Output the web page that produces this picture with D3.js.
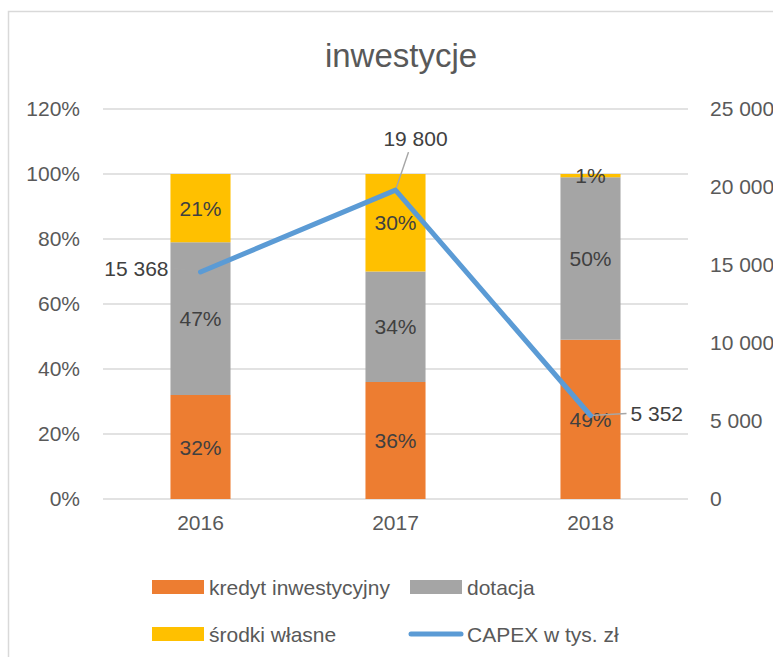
<!DOCTYPE html>
<html>
<head>
<meta charset="utf-8">
<script src="https://cdn.jsdelivr.net/npm/d3@7"></script>
<style>
  body { margin: 0; background: #fff; }
  svg { display: block; font-family: "Liberation Sans", Arial, sans-serif; }
</style>
</head>
<body>
<div id="chart"></div>
<script>
// data
var years = ["2016", "2017", "2018"]
var seriesNames = ["kredyt inwestycyjny", "dotacja", "środki własne"]
var kredyt = [32, 36, 49]
var dotacja = [47, 34, 50]
var srodki = [21, 30, 1]
var capexName = "CAPEX w tys. zł"
var capex = [14550, 19800, 5352]
var capexLabels = ["15 368", "19 800", "5 352"]
var leftTicks = [0, 20, 40, 60, 80, 100, 120]
var rightTicks = [0, 5000, 10000, 15000, 20000, 25000]

var colors = ["#ED7D31", "#A5A5A5", "#FFC000"]
var lineColor = "#5B9BD5"
var textColor = "#595959"
var labelColor = "#404040"

var W = 773, H = 657
var plot = {left: 103, right: 688, top: 109, bottom: 499}

var svg = d3.select("#chart").append("svg")
    .attr("width", W).attr("height", H)

// chart frame (runs off the right and bottom edge)
svg.append("rect")
    .attr("x", 8.5).attr("y", 11.5)
    .attr("width", 800).attr("height", 700)
    .style("fill", "#fff").style("stroke", "#D9D9D9").style("stroke-width", 1.5)

svg.append("text")
    .attr("x", 401).attr("y", 67)
    .attr("text-anchor", "middle")
    .style("font-size", "33px").style("fill", textColor)
    .text("inwestycje")

var x = d3.scaleBand()
    .domain(years)
    .range([plot.left, plot.right])
    .paddingInner(0.692)
    .paddingOuter(0.346)

var y = d3.scaleLinear().domain([0, 120]).range([plot.bottom, plot.top])
var y2 = d3.scaleLinear().domain([0, 25000]).range([plot.bottom, plot.top])

var fmtPl = d3.formatLocale({decimal: ",", thousands: " ", grouping: [3], currency: ["", " zł"]})

// gridlines
svg.append("g").selectAll("line")
    .data(leftTicks).enter().append("line")
    .attr("x1", plot.left).attr("x2", plot.right)
    .attr("y1", function(d){ return y(d) }).attr("y2", function(d){ return y(d) })
    .style("stroke", "#D9D9D9").style("stroke-width", 1.5)

// left axis
var gl = svg.append("g")
    .attr("transform", "translate(" + (plot.left - 23) + ",0)")
    .call(d3.axisLeft(y).tickValues(leftTicks).tickSize(0).tickPadding(0)
        .tickFormat(function(d){ return d + "%" }))
gl.select(".domain").remove()
gl.selectAll("text").style("font-size", "21px").style("fill", textColor)
    .style("font-family", "Liberation Sans, Arial, sans-serif")

// right axis
var gr = svg.append("g")
    .attr("transform", "translate(710,0)")
    .call(d3.axisRight(y2).tickValues(rightTicks).tickSize(0).tickPadding(0)
        .tickFormat(fmtPl.format(",d")))
gr.select(".domain").remove()
gr.selectAll("text").style("font-size", "21px").style("fill", textColor)
    .style("font-family", "Liberation Sans, Arial, sans-serif")

// bottom axis labels
var gb = svg.append("g")
    .attr("transform", "translate(0," + (plot.bottom + 16) + ")")
    .call(d3.axisBottom(x).tickSize(0).tickPadding(0))
gb.select(".domain").remove()
gb.selectAll("text").style("font-size", "21px").style("fill", textColor)
    .style("font-family", "Liberation Sans, Arial, sans-serif")

// stacked bars
var table = years.map(function(yr, i){
    return {year: yr, kredyt: kredyt[i], dotacja: dotacja[i], srodki: srodki[i]}
})
var stack = d3.stack().keys(["kredyt", "dotacja", "srodki"])(table)

var layers = svg.append("g").selectAll("g")
    .data(stack).enter().append("g")
    .style("fill", function(d, i){ return colors[i] })

layers.selectAll("rect")
    .data(function(d){ return d }).enter().append("rect")
    .attr("x", function(d){ return x(d.data.year) })
    .attr("y", function(d){ return y(d[1]) })
    .attr("width", x.bandwidth())
    .attr("height", function(d){ return y(d[0]) - y(d[1]) })

layers.selectAll("text")
    .data(function(d){ return d }).enter().append("text")
    .attr("x", function(d){ return x(d.data.year) + x.bandwidth() / 2 })
    .attr("y", function(d){ return (y(d[0]) + y(d[1])) / 2 })
    .attr("dy", "0.36em")
    .attr("text-anchor", "middle")
    .style("font-size", "21px").style("fill", labelColor)
    .text(function(d){ return (d[1] - d[0]) + "%" })

// CAPEX line
var cx = function(i){ return x(years[i]) + x.bandwidth() / 2 }
var line = d3.line()
    .x(function(d, i){ return cx(i) })
    .y(function(d){ return y2(d) })

// leader lines for moved labels
var leaders = [
    [cx(0), y2(capex[0]), cx(0) - 28, y2(capex[0]) - 4],
    [cx(1), y2(capex[1]), cx(1) + 13, y2(capex[1]) - 38],
    [cx(2), y2(capex[2]), cx(2) + 36, y2(capex[2]) - 2]
]
svg.append("g").selectAll("line")
    .data(leaders).enter().append("line")
    .attr("x1", function(d){ return d[0] }).attr("y1", function(d){ return d[1] })
    .attr("x2", function(d){ return d[2] }).attr("y2", function(d){ return d[3] })
    .style("stroke", "#A6A6A6").style("stroke-width", 1.5)

svg.append("path")
    .datum(capex)
    .attr("d", line)
    .style("fill", "none").style("stroke", lineColor)
    .style("stroke-width", 5).style("stroke-linecap", "round").style("stroke-linejoin", "round")

var capexPos = [
    {x: cx(0) - 32, y: y2(capex[0]) - 4, anchor: "end"},
    {x: cx(1) + 20, y: y2(capex[1]) - 52, anchor: "middle"},
    {x: cx(2) + 40, y: y2(capex[2]) - 2, anchor: "start"}
]
svg.append("g").selectAll("text")
    .data(capexLabels).enter().append("text")
    .attr("x", function(d, i){ return capexPos[i].x })
    .attr("y", function(d, i){ return capexPos[i].y })
    .attr("dy", "0.36em")
    .attr("text-anchor", function(d, i){ return capexPos[i].anchor })
    .style("font-size", "21px").style("fill", labelColor)
    .text(function(d){ return d })

// legend
var legendItems = [
    {name: seriesNames[0], type: "rect", color: colors[0], x: 152, y: 587},
    {name: seriesNames[1], type: "rect", color: colors[1], x: 410, y: 587},
    {name: seriesNames[2], type: "rect", color: colors[2], x: 152, y: 634},
    {name: capexName, type: "line", color: lineColor, x: 410, y: 634}
]
var lg = svg.append("g").selectAll("g")
    .data(legendItems).enter().append("g")
    .attr("transform", function(d){ return "translate(" + d.x + "," + d.y + ")" })

lg.filter(function(d){ return d.type == "rect" }).append("rect")
    .attr("x", 0).attr("y", -7).attr("width", 52).attr("height", 14)
    .style("fill", function(d){ return d.color })
lg.filter(function(d){ return d.type == "line" }).append("line")
    .attr("x1", 1).attr("x2", 51).attr("y1", 0).attr("y2", 0)
    .style("stroke", function(d){ return d.color })
    .style("stroke-width", 5).style("stroke-linecap", "round")
lg.append("text")
    .attr("x", 57).attr("y", 0).attr("dy", "0.36em")
    .style("font-size", "21px").style("fill", textColor)
    .text(function(d){ return d.name })
</script>
</body>
</html>
